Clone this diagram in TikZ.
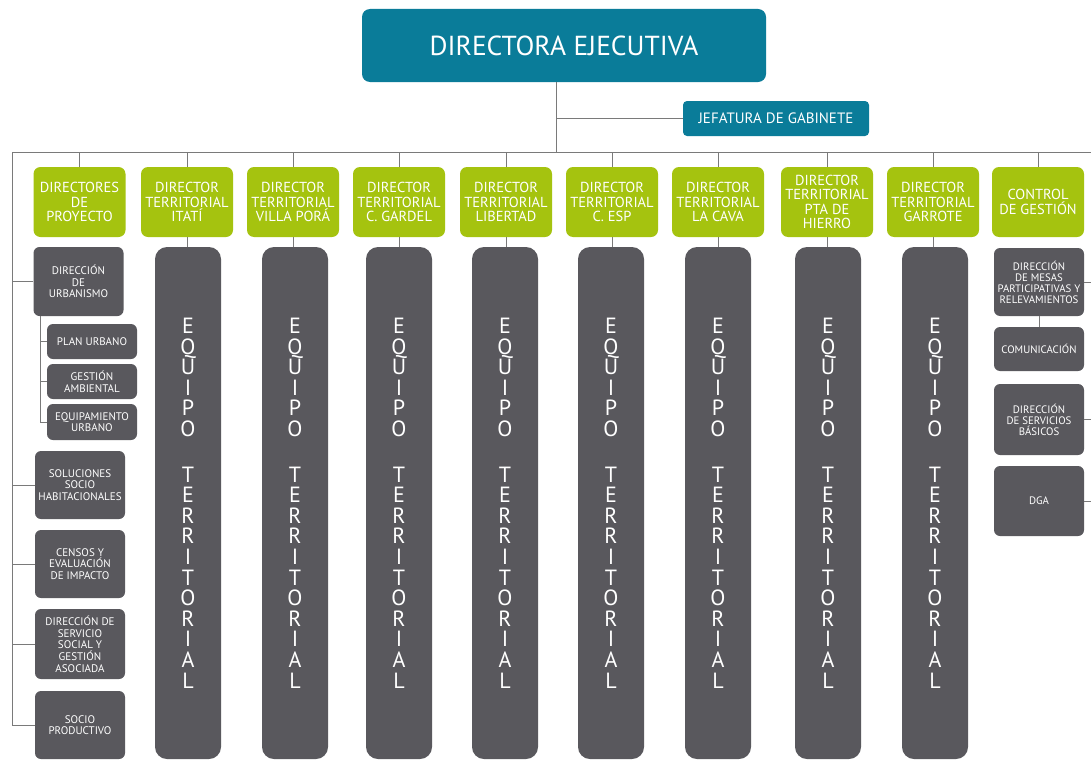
\documentclass[tikz,border=0pt]{standalone}
\usepackage{fontspec}
\setmainfont{PT Sans}
\usetikzlibrary{positioning}
\definecolor{headteal}{HTML}{0A7C99}
\definecolor{dirgreen}{HTML}{A5C30F}
\definecolor{unitgray}{HTML}{59585D}
\definecolor{linkgray}{HTML}{7A7A7A}
\newcommand{\equipo}{E\\Q\\U\\I\\P\\O\\[25pt]T\\E\\R\\R\\I\\T\\O\\R\\I\\A\\L}

\begin{document}
\begin{tikzpicture}[
    x=1pt, y=-1pt,
    head/.style={rounded corners=8pt, fill=headteal, text=white, align=center, inner sep=0pt},
    dirbox/.style={rounded corners=7pt, fill=dirgreen, text=white, minimum width=92pt, minimum height=70pt,
        align=center, inner sep=0pt, font=\fontsize{14.5}{14.5}\selectfont},
    unit/.style={rounded corners=6pt, fill=unitgray, text=white, minimum width=90pt, align=center,
        inner sep=0pt, font=\fontsize{11}{11.7}\selectfont},
    ctrl/.style={unit, font=\fontsize{10.8}{11}\selectfont},
    team/.style={rounded corners=12pt, fill=unitgray, text=white, minimum width=66pt, minimum height=512pt,
        align=center, inner sep=0pt, font=\fontsize{22}{20.6}\selectfont},
    link/.style={draw=linkgray, line width=1pt},
]

% Canvas
\fill[white] (0,0) rectangle (1091,760);
\useasboundingbox (0,0) rectangle (1091,760);

% Top
\node[head, minimum width=404pt, minimum height=73pt, font=\fontsize{27.5}{30}\selectfont] (dir) at (564, 45.5) {DIRECTORA EJECUTIVA};
\node[head, rounded corners=4pt, minimum width=186pt, minimum height=35pt, font=\fontsize{15}{16}\selectfont] (jef) at (776, 118.5) {JEFATURA DE GABINETE};

% Bus coordinates
\coordinate (trunk) at (556, 82);
\coordinate (busL) at (12, 152);
\coordinate (busR) at (1091, 152);
\coordinate (sub) at (40, 316);

% Directors row
\node[dirbox] (dp) at (79.5, 202) {DIRECTORES\\DE\\PROYECTO};
\node[dirbox] (t1) at (187, 202) {DIRECTOR\\TERRITORIAL\\ITATÍ};
\node[dirbox] (t2) at (293, 202) {DIRECTOR\\TERRITORIAL\\VILLA PORÁ};
\node[dirbox] (t3) at (399, 202) {DIRECTOR\\TERRITORIAL\\C. GARDEL};
\node[dirbox] (t4) at (506, 202) {DIRECTOR\\TERRITORIAL\\LIBERTAD};
\node[dirbox] (t5) at (612, 202) {DIRECTOR\\TERRITORIAL\\C. ESP};
\node[dirbox] (t6) at (718, 202) {DIRECTOR\\TERRITORIAL\\LA CAVA};
\node[dirbox] (t7) at (827, 202) {DIRECTOR\\TERRITORIAL\\PTA DE\\HIERRO};
\node[dirbox] (t8) at (933, 202) {DIRECTOR\\TERRITORIAL\\GARROTE};
\node[dirbox] (cg) at (1038, 202) {CONTROL\\DE GESTIÓN};

% Territorial teams
\node[team] (e1) at (188, 503) {\equipo};
\node[team] (e2) at (295, 503) {\equipo};
\node[team] (e3) at (399, 503) {\equipo};
\node[team] (e4) at (505, 503) {\equipo};
\node[team] (e5) at (611, 503) {\equipo};
\node[team] (e6) at (718, 503) {\equipo};
\node[team] (e7) at (828, 503) {\equipo};
\node[team] (e8) at (935, 503) {\equipo};

% Project units (left)
\node[unit, minimum height=69pt] (urb) at (78.5, 281.5) {DIRECCIÓN\\DE\\URBANISMO};
\node[unit, minimum height=35pt] (pu) at (92, 341.5) {PLAN URBANO};
\node[unit, minimum height=35pt] (ga) at (92, 381.5) {GESTIÓN\\AMBIENTAL};
\node[unit, minimum height=36pt] (eqp) at (92, 422) {EQUIPAMIENTO\\URBANO};
\node[unit, minimum height=68pt] (sol) at (80, 485) {SOLUCIONES\\SOCIO\\HABITACIONALES};
\node[unit, minimum height=68pt] (cen) at (80, 564) {CENSOS Y\\EVALUACIÓN\\DE IMPACTO};
\node[unit, minimum height=70pt] (ss) at (80, 644) {DIRECCIÓN DE\\SERVICIO\\SOCIAL Y\\GESTIÓN\\ASOCIADA};
\node[unit, minimum height=68pt] (sp) at (80, 725) {SOCIO\\PRODUCTIVO};

% Control units (right)
\node[ctrl, minimum height=68pt] (mes) at (1039, 282) {DIRECCIÓN\\DE MESAS\\PARTICIPATIVAS Y\\RELEVAMIENTOS};
\node[ctrl, minimum height=44pt] (com) at (1039, 349) {COMUNICACIÓN};
\node[ctrl, minimum height=71pt] (sb) at (1039, 419.5) {DIRECCIÓN\\DE SERVICIOS\\BÁSICOS};
\node[ctrl, minimum height=70pt] (dga) at (1039, 501) {DGA};

% Connectors
\draw[link] (trunk) -- (trunk |- busL);
\draw[link] (jef.west) -- (jef.west -| trunk);
\draw[link] (busL) -- (busR);
\draw[link] (dp.north) -- (dp.north |- busL);
\draw[link] (t1.north) -- (t1.north |- busL);
\draw[link] (t2.north) -- (t2.north |- busL);
\draw[link] (t3.north) -- (t3.north |- busL);
\draw[link] (t4.north) -- (t4.north |- busL);
\draw[link] (t5.north) -- (t5.north |- busL);
\draw[link] (t6.north) -- (t6.north |- busL);
\draw[link] (t7.north) -- (t7.north |- busL);
\draw[link] (t8.north) -- (t8.north |- busL);
\draw[link] (cg.north) -- (cg.north |- busL);
\draw[link] (t1.south) -- (t1.south |- e1.north);
\draw[link] (t2.south) -- (t2.south |- e2.north);
\draw[link] (t3.south) -- (t3.south |- e3.north);
\draw[link] (t4.south) -- (t4.south |- e4.north);
\draw[link] (t5.south) -- (t5.south |- e5.north);
\draw[link] (t6.south) -- (t6.south |- e6.north);
\draw[link] (t7.south) -- (t7.south |- e7.north);
\draw[link] (t8.south) -- (t8.south |- e8.north);

% Left bracket
\draw[link] (busL) |- (sp.west);
\draw[link] (urb.west) -- (urb.west -| busL);
\draw[link] (sol.west) -- (sol.west -| busL);
\draw[link] (cen.west) -- (cen.west -| busL);
\draw[link] (ss.west) -- (ss.west -| busL);
\draw[link] (sub) |- (eqp.west);
\draw[link] (pu.west) -- (pu.west -| sub);
\draw[link] (ga.west) -- (ga.west -| sub);

% Right ticks
\draw[link] (mes.south) -- (mes.south |- com.north);
\draw[link] (mes.east) -- (mes.east -| busR);
\draw[link] (sb.east) -- (sb.east -| busR);
\draw[link] (dga.east) -- (dga.east -| busR);

\end{tikzpicture}
\end{document}
